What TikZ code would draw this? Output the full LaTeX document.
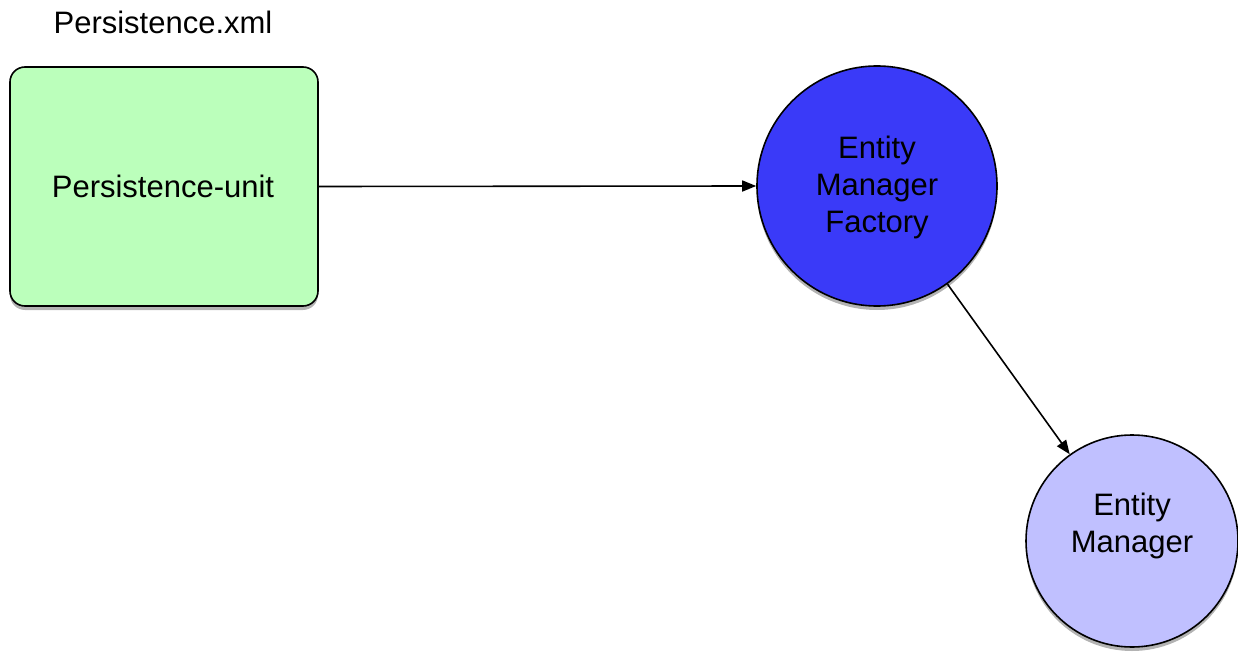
\documentclass[tikz,border=0pt]{standalone}
\usepackage{fontspec}
\setmainfont{Liberation Sans}
\usetikzlibrary{arrows.meta,shadows}
\definecolor{boxgreen}{HTML}{BBFFBB}
\definecolor{emfblue}{HTML}{3A3AF8}
\definecolor{emlav}{HTML}{C0C0FF}
\tikzset{
  lbl/.style={font=\fontsize{31}{37}\selectfont, text=black, align=center},
  unitbox/.style={draw=black, line width=1.6pt, fill=boxgreen, rounded corners=15pt,
    minimum width=308pt, minimum height=239pt,
    drop shadow={shadow xshift=0pt, shadow yshift=-4pt, opacity=0.6}},
  bigcirc/.style={circle, draw=black, line width=1.6pt, fill=emfblue, minimum size=240pt, inner sep=0pt,
    drop shadow={shadow xshift=0pt, shadow yshift=-4pt, opacity=0.6}},
  smallcirc/.style={circle, draw=black, line width=1.6pt, fill=emlav, minimum size=212pt, inner sep=0pt,
    drop shadow={shadow xshift=0pt, shadow yshift=-4pt, opacity=0.6}},
  conn/.style={line width=1.6pt, -{Triangle[length=14pt,width=11pt]}}
}
\begin{document}
\begin{tikzpicture}[x=1pt,y=-1pt]
\useasboundingbox (0,0) rectangle (1238,652);
\node[lbl] (title) at (163,22) {Persistence.xml};
\node[unitbox] (pu) at (164,186.5) {};
\node[lbl] (putext) at (163,186) {Persistence-unit};
\node[bigcirc] (emf) at (877,186) {};
\node[lbl] (emftext) at (877,187) {Entity\\Manager\\Factory};
\node[smallcirc] (em) at (1132,541) {};
\node[lbl] (emtext) at (1132,526) {Entity\\Manager};
\draw[conn] (pu.east) -- (emf.west);
\draw[conn] (emf) -- (em);
\end{tikzpicture}
\end{document}
